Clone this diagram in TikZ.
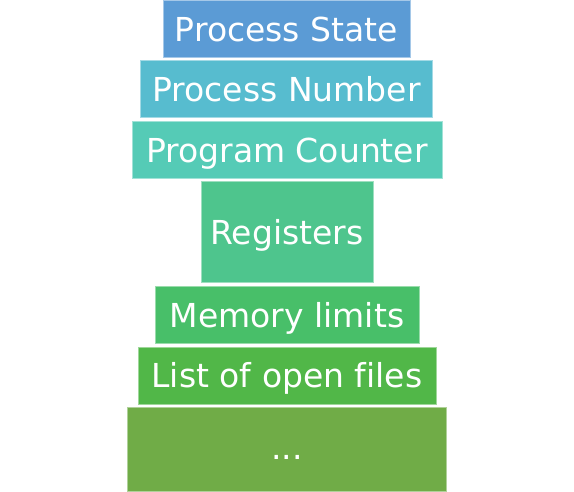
\documentclass[tikz,border=0pt]{standalone}
\usepackage{fontspec}
\setmainfont[Ligatures=NoCommon]{DejaVu Sans}
\definecolor{stateblue}{HTML}{5B9BD5}
\definecolor{numbercyan}{HTML}{57BCCF}
\definecolor{countersea}{HTML}{55CBB6}
\definecolor{registermint}{HTML}{4EC58D}
\definecolor{memorygreen}{HTML}{48BF69}
\definecolor{filesgreen}{HTML}{51B748}
\definecolor{restolive}{HTML}{70AC47}
\tikzset{
  pcbfield/.style={draw=#1!55!white, fill=#1, line width=0.8pt,
    text=white, font=\fontsize{33}{40}\selectfont,
    text height=24pt, text depth=0pt, inner sep=0pt, anchor=center},
}
\begin{document}
\begin{tikzpicture}[x=1pt, y=-1pt]
\useasboundingbox (0,0) rectangle (574,491);
\node[pcbfield=stateblue, minimum width=247pt, minimum height=57pt] (state) at (286.5,29) {Process State};
\node[pcbfield=numbercyan, minimum width=292pt, minimum height=57pt] (number) at (286.5,89) {Process Number};
\node[pcbfield=countersea, minimum width=310pt, minimum height=57pt] (counter) at (287,150) {Program Counter};
\node[pcbfield=registermint, minimum width=172pt, minimum height=101pt] (registers) at (287,232) {Registers};
\node[pcbfield=memorygreen, minimum width=264pt, minimum height=57pt] (memory) at (287,315) {Memory limits};
\node[pcbfield=filesgreen, minimum width=298pt, minimum height=57pt] (files) at (287,375.5) {List of open files};
\node[pcbfield=restolive, minimum width=319pt, minimum height=84pt, text height=21pt] (rest) at (287,449) {...};
\end{tikzpicture}
\end{document}
